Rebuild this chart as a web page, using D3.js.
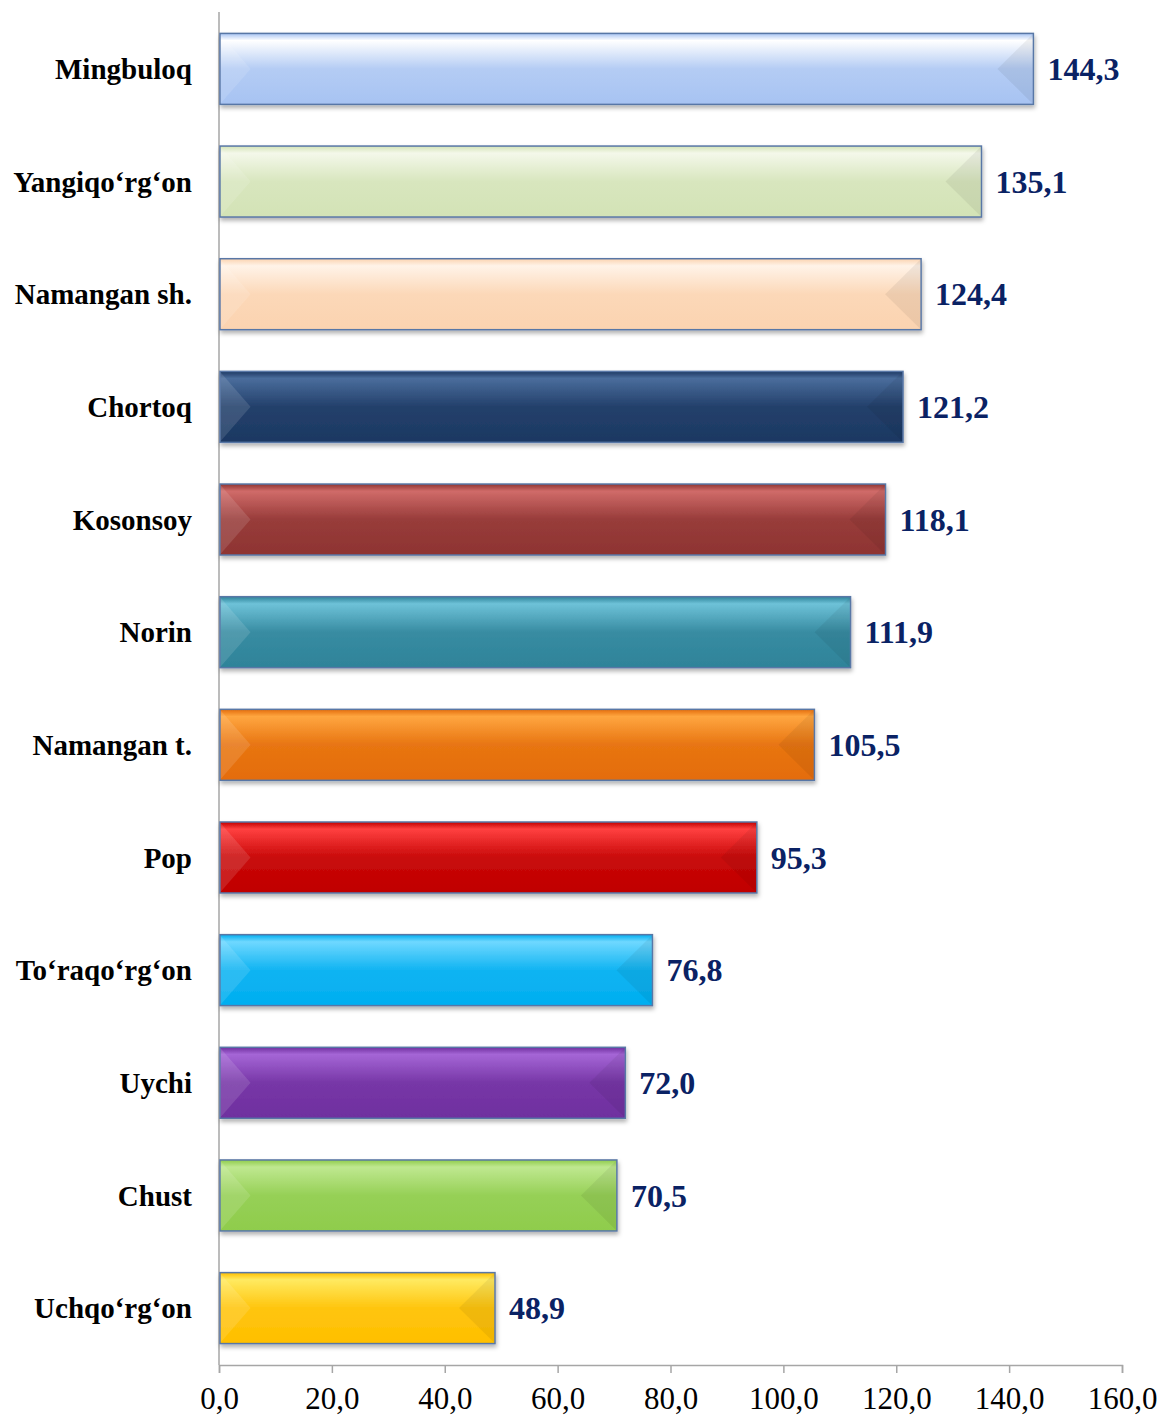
<!DOCTYPE html>
<html lang="en">
<head>
<meta charset="UTF-8">
<title>Bar chart</title>
<script src="https://d3js.org/d3.v7.min.js"></script>
<style>
    body { margin: 0; background: #fff; }
    svg { display: block; }
    .cat { font-family: "Liberation Serif", "Times New Roman", serif; font-weight: bold; font-size: 29px; fill: #000; }
    .val { font-family: "Liberation Serif", "Times New Roman", serif; font-weight: bold; font-size: 32px; fill: #0a2264; }
    .tick text { font-family: "Liberation Serif", "Times New Roman", serif; font-size: 31px; fill: #000; }
</style>
</head>
<body>
<div id="chart"></div>
<script>
    // data, top to bottom
    const categories = ["Mingbuloq", "Yangiqo‘rg‘on", "Namangan sh.", "Chortoq", "Kosonsoy", "Norin",
        "Namangan t.", "Pop", "To‘raqo‘rg‘on", "Uychi", "Chust", "Uchqo‘rg‘on"];
    const values = [144.3, 135.1, 124.4, 121.2, 118.1, 111.9, 105.5, 95.3, 76.8, 72.0, 70.5, 48.9];
    const xTicks = [0, 20, 40, 60, 80, 100, 120, 140, 160];
    // [top highlight, base color]
    const barColors = [
        ["#ffffff", "#a7c3f2"], ["#f4f8ea", "#d3e3b6"], ["#fff3e8", "#fbd3b0"], ["#4a6d9c", "#1c3862"],
        ["#d06b69", "#8e3432"], ["#6ec2d8", "#2e8399"], ["#ffa640", "#e46c0a"], ["#ff4040", "#c00000"],
        ["#6fd8ff", "#00aef0"], ["#a566d6", "#6f2f9f"], ["#bfe890", "#8fcc4c"], ["#ffea60", "#ffbf00"]
    ];

    const width = 1161, height = 1416;
    const svg = d3.select("#chart").append("svg").attr("width", width).attr("height", height);

    const x = d3.scaleLinear().domain([0, 160]).range([219, 1122]);
    const y = d3.scaleBand().domain(categories).range([12, 1365]).paddingInner(0.37).paddingOuter(0.19);

    const defs = svg.append("defs");
    const shadow = defs.append("filter").attr("id", "shadow").attr("x", "-5%").attr("y", "-20%").attr("width", "110%").attr("height", "150%");
    shadow.append("feDropShadow").attr("dx", 1).attr("dy", 3).attr("stdDeviation", 2)
        .attr("flood-color", "#000").attr("flood-opacity", 0.3);

    barColors.forEach((c, i) => {
        const g = defs.append("linearGradient").attr("id", "grad" + i)
            .attr("x1", 0).attr("y1", 0).attr("x2", 0).attr("y2", 1);
        g.append("stop").attr("offset", "0%").attr("stop-color", c[1]);
        g.append("stop").attr("offset", "10%").attr("stop-color", c[0]);
        g.append("stop").attr("offset", "50%").attr("stop-color", d3.interpolateRgb(c[0], c[1])(0.85));
        g.append("stop").attr("offset", "100%").attr("stop-color", c[1]);
    });

    const data = categories.map((name, i) => ({ name, value: values[i], i }));

    // axes
    svg.append("line")
        .attr("x1", x(0)).attr("x2", x(0)).attr("y1", 12).attr("y2", 1365)
        .attr("stroke", "#a6a6a6").attr("stroke-width", 1.5);

    const xAxis = svg.append("g").attr("transform", "translate(0,1365)")
        .call(d3.axisBottom(x).tickValues(xTicks).tickSize(8).tickPadding(10)
            .tickFormat(d => d3.format(".1f")(d).replace(".", ",")));
    xAxis.select(".domain").attr("stroke", "#a6a6a6").attr("stroke-width", 1.5);
    xAxis.selectAll(".tick line").attr("stroke", "#a6a6a6").attr("stroke-width", 1.5);
    xAxis.selectAll(".tick text").attr("dy", "0.85em");

    // bars
    const bar = svg.selectAll("g.bar").data(data).enter().append("g").attr("class", "bar");

    bar.append("rect")
        .attr("x", x(0) + 1)
        .attr("y", d => y(d.name))
        .attr("width", d => x(d.value) - x(0) - 1)
        .attr("height", y.bandwidth())
        .attr("fill", d => `url(#grad${d.i})`)
        .attr("stroke", "#5877a6")
        .attr("stroke-width", 1.5)
        .attr("filter", "url(#shadow)");

    const bev = 30;
    // left bevel: lighter triangle
    bar.append("path")
        .attr("d", d => {
            const x0 = x(0) + 1.5, y0 = y(d.name) + 1, y1 = y(d.name) + y.bandwidth() - 1, ym = (y0 + y1) / 2;
            return `M${x0},${y0}L${x0 + bev},${ym}L${x0},${y1}Z`;
        })
        .attr("fill", "#fff").attr("fill-opacity", 0.12);

    // right bevel: slightly darker triangle
    bar.append("path")
        .attr("d", d => {
            const x1 = x(d.value) - 1, y0 = y(d.name) + 1, y1 = y(d.name) + y.bandwidth() - 1, ym = (y0 + y1) / 2;
            return `M${x1},${y0}L${x1 - bev - 5},${ym}L${x1},${y1}Z`;
        })
        .attr("fill", "#000").attr("fill-opacity", 0.06);

    // value labels
    bar.append("text")
        .attr("class", "val")
        .attr("x", d => x(d.value) + 14)
        .attr("y", d => y(d.name) + y.bandwidth() / 2)
        .attr("dy", "0.35em")
        .text(d => d3.format(".1f")(d.value).replace(".", ","));

    // category labels
    svg.selectAll("text.cat").data(data).enter().append("text")
        .attr("class", "cat")
        .attr("x", 192)
        .attr("y", d => y(d.name) + y.bandwidth() / 2)
        .attr("dy", "0.35em")
        .attr("text-anchor", "end")
        .text(d => d.name);
</script>
</body>
</html>
